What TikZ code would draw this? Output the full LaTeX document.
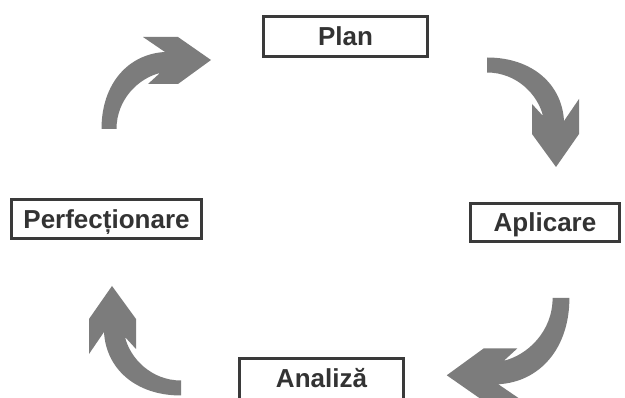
\documentclass[tikz,border=0pt]{standalone}
\usepackage{fontspec}
\setmainfont{Liberation Sans}
\definecolor{arrowgray}{HTML}{7C7C7C}
\definecolor{boxline}{HTML}{3A3A3A}
\definecolor{textgray}{HTML}{333333}
\tikzset{
  stagebox/.style={draw=boxline, line width=3pt, fill=white, text=textgray,
    font=\bfseries\fontsize{26}{30}\selectfont, inner sep=0pt,
    text height=19pt, text depth=0pt, minimum height=40pt},
  pics/bentarrow/.style={code={
    \fill[arrowgray] (-7.5,0) .. controls (-7.5,-45) and (19,-75) .. (56,-77)
      -- (34,-92) -- (69,-92) -- (102,-69) -- (69,-45) -- (39,-45) -- (51,-56)
      .. controls (30,-51) and (7.5,-30) .. (7.5,0) -- cycle;
  }}
}
\begin{document}
\begin{tikzpicture}[x=1pt,y=-1pt]
\useasboundingbox (0,0) rectangle (625,398);
\fill[white] (0,0) rectangle (625,398);
\node[stagebox, minimum width=164pt] (plan) at (345.5,36.5) {Plan};
\node[stagebox, minimum width=190pt, minimum height=39pt] (perf) at (106.5,219) {Perfecționare};
\node[stagebox, minimum width=149pt, minimum height=38pt] (aplicare) at (545,222.5) {Aplicare};
\node[stagebox, minimum width=164pt, minimum height=50pt, text depth=11pt] (analiza) at (321.5,383.5) {Analiză};
\pic at (109,129) {bentarrow};
\pic[rotate=-90] at (487,65) {bentarrow};
\pic[rotate=180, scale=1.12] at (561,298) {bentarrow};
\pic[rotate=90] at (181,388) {bentarrow};
\end{tikzpicture}
\end{document}
